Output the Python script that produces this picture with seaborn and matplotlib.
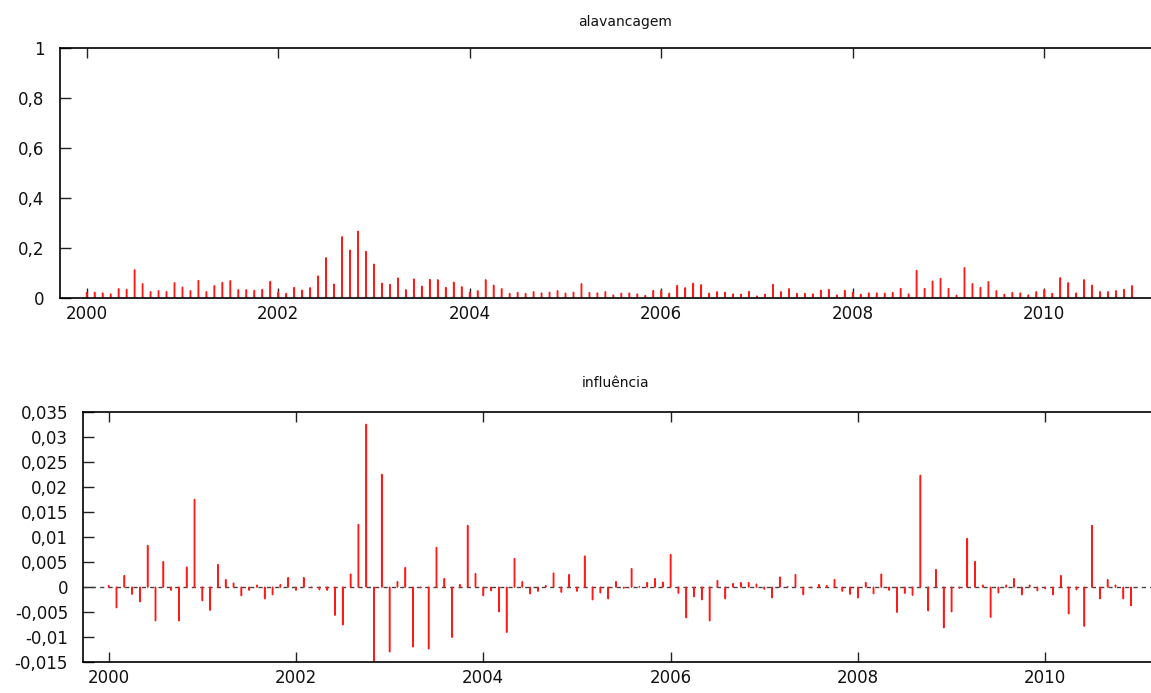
import numpy as np
import pandas as pd
import matplotlib
matplotlib.use("Agg")
import matplotlib.pyplot as plt
from matplotlib.ticker import FuncFormatter, FixedLocator
import seaborn as sns

# Monthly observations, 2000:01 - 2010:12
start_year = 2000
n_obs = 132

leverage = [
    0.023, 0.024, 0.021, 0.017, 0.038, 0.035, 0.114, 0.058, 0.026, 0.030, 0.026, 0.062,
    0.044, 0.030, 0.071, 0.026, 0.050, 0.063, 0.070, 0.034, 0.034, 0.031, 0.035, 0.067,
    0.024, 0.019, 0.043, 0.032, 0.042, 0.089, 0.162, 0.056, 0.246, 0.192, 0.268, 0.187,
    0.136, 0.060, 0.055, 0.081, 0.034, 0.077, 0.048, 0.075, 0.074, 0.043, 0.064, 0.046,
    0.024, 0.030, 0.074, 0.052, 0.038, 0.019, 0.023, 0.019, 0.026, 0.021, 0.024, 0.030,
    0.020, 0.024, 0.058, 0.023, 0.021, 0.026, 0.013, 0.020, 0.021, 0.017, 0.011, 0.031,
    0.031, 0.020, 0.051, 0.042, 0.060, 0.054, 0.020, 0.026, 0.024, 0.017, 0.016, 0.027,
    0.009, 0.016, 0.055, 0.026, 0.038, 0.019, 0.019, 0.017, 0.032, 0.035, 0.013, 0.031,
    0.023, 0.016, 0.021, 0.021, 0.020, 0.023, 0.039, 0.017, 0.111, 0.039, 0.068, 0.079,
    0.039, 0.012, 0.122, 0.058, 0.043, 0.066, 0.030, 0.016, 0.023, 0.021, 0.013, 0.026,
    0.034, 0.019, 0.082, 0.062, 0.021, 0.074, 0.052, 0.026, 0.026, 0.030, 0.035, 0.050,
]

influence = [
    0.0003, -0.0041, 0.0023, -0.0014, -0.0029, 0.0083, -0.0067, 0.0051, -0.0006, -0.0067, 0.0040, 0.0175,
    -0.0027, -0.0046, 0.0045, 0.0015, 0.0008, -0.0017, -0.0006, 0.0004, -0.0023, -0.0015, 0.0005, 0.0019,
    -0.0006, 0.0019, -0.0001, -0.0005, -0.0006, -0.0056, -0.0075, 0.0026, 0.0125, 0.0325, -0.0155, 0.0225,
    -0.0129, 0.0011, 0.0039, -0.0119, -0.0001, -0.0123, 0.0079, 0.0017, -0.0100, 0.0005, 0.0123, 0.0027,
    -0.0017, -0.0007, -0.0049, -0.0090, 0.0057, 0.0011, -0.0013, -0.0008, 0.0003, 0.0028, -0.0010, 0.0025,
    -0.0008, 0.0062, -0.0025, -0.0011, -0.0023, 0.0011, -0.0002, 0.0037, 0.0001, 0.0009, 0.0017, 0.0010,
    0.0065, -0.0012, -0.0061, -0.0019, -0.0025, -0.0067, 0.0013, -0.0023, 0.0007, 0.0009, 0.0009, 0.0006,
    -0.0004, -0.0021, 0.0020, 0.0001, 0.0025, -0.0015, -0.0001, 0.0005, 0.0003, 0.0015, -0.0008, -0.0014,
    -0.0021, 0.0009, -0.0013, 0.0026, -0.0006, -0.0050, -0.0012, -0.0016, 0.0223, -0.0047, 0.0035, -0.0081,
    -0.0049, -0.0002, 0.0097, 0.0051, 0.0004, -0.0060, -0.0011, 0.0004, 0.0017, -0.0015, 0.0004, -0.0007,
    -0.0003, -0.0015, 0.0023, -0.0053, -0.0005, -0.0078, 0.0123, -0.0023, 0.0015, 0.0004, -0.0023, -0.0037,
]

year_ticks = [2000, 2002, 2004, 2006, 2008, 2010]
lev_ticks = [0, 0.2, 0.4, 0.6, 0.8, 1]
inf_ticks = [-0.015, -0.01, -0.005, 0, 0.005, 0.01, 0.015, 0.02, 0.025, 0.03, 0.035]

titles = ["alavancagem", "influência"]

t = start_year + np.arange(n_obs) / 12.0
df = pd.DataFrame({"t": t, "alavancagem": leverage, "influencia": influence})

sns.set_theme(style="ticks")
plt.rcParams["font.family"] = ["DejaVu Sans"]

W, H = 1151, 693
fig = plt.figure(figsize=(W / 100, H / 100), dpi=100)
fig.patch.set_facecolor("white")


def px_axes(left, top, right, bottom):
    return fig.add_axes([left / W, 1 - bottom / H, (right - left) / W, (bottom - top) / H])


def comma_fmt(v, _pos):
    s = f"{round(v, 6):g}"
    return s.replace(".", ",")


ax1 = px_axes(60, 48.3, 1152, 298.3)
ax2 = px_axes(83.3, 411.8, 1152, 662.3)

bar_color = "#ff1a1a"
bar_kw = dict(native_scale=True, width=0.06, color=bar_color, saturation=1,
              edgecolor=bar_color, linewidth=1.0)

# impulse-style spikes: very narrow bars with a thin outline of the same colour
sns.barplot(data=df, x="t", y="alavancagem", ax=ax1, **bar_kw)
ax2.axhline(0, color="#444444", lw=1.0, ls=(0, (3, 3)), zorder=1)
sns.barplot(data=df, x="t", y="influencia", ax=ax2, zorder=2, **bar_kw)

for ax in (ax1, ax2):
    for p in ax.patches:
        p.set_snap(False)

ax1.set_xlim(1999.721, 2011.125)
ax1.set_ylim(0, 1)
ax2.set_xlim(1999.729, 2011.14)
ax2.set_ylim(-0.015, 0.035)

for ax, yt in ((ax1, lev_ticks), (ax2, inf_ticks)):
    ax.set_facecolor("white")
    ax.xaxis.set_major_locator(FixedLocator(year_ticks))
    ax.yaxis.set_major_locator(FixedLocator(yt))
    ax.xaxis.set_major_formatter(FuncFormatter(lambda v, p: f"{int(round(v))}"))
    ax.yaxis.set_major_formatter(FuncFormatter(comma_fmt))
    ax.set_xlabel("")
    ax.set_ylabel("")
    ax.tick_params(axis="x", which="major", direction="in", length=7, width=1,
                   top=True, bottom=True, labelsize=12, pad=5, color="#222222",
                   labelcolor="#111111")
    ax.tick_params(axis="y", which="major", direction="in", length=8, width=1,
                   left=True, right=False, labelsize=12, pad=11, color="#222222",
                   labelcolor="#111111")
    for side in ("left", "top", "bottom"):
        ax.spines[side].set_visible(True)
        ax.spines[side].set_color("black")
        ax.spines[side].set_linewidth(1.2)
        ax.spines[side].set_zorder(5)
    ax.spines["right"].set_visible(False)
    ax.minorticks_off()

fig.text(625 / W, 1 - 22 / H, titles[0], ha="center", va="center",
         fontsize=10, color="#111111")
fig.text(616 / W, 1 - 383 / H, titles[1], ha="center", va="center",
         fontsize=10, color="#111111")

fig.savefig("out.png", dpi=100, facecolor="white")
